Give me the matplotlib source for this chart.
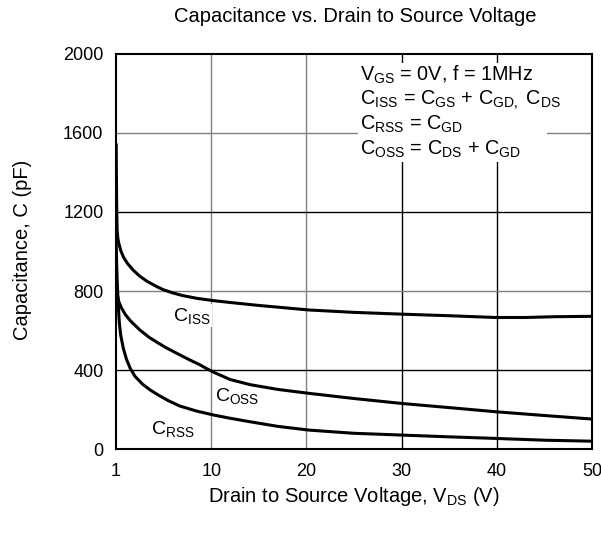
import matplotlib
matplotlib.use("Agg")
from matplotlib import pyplot as plt
from matplotlib.patches import Rectangle

plt.rcParams['font.family'] = ['Liberation Sans', 'DejaVu Sans']
plt.rcParams['mathtext.fontset'] = 'custom'
plt.rcParams['mathtext.rm'] = 'Liberation Sans'
plt.rcParams['mathtext.it'] = 'Liberation Sans'

# data (x axis drawn 0..50 with the left edge labelled "1")
ciss_v = [0.02, 0.05, 0.08, 0.12, 0.2, 0.3, 0.5, 0.8, 1.2, 1.8, 2.5, 3.3, 4.3, 5.0, 6.0,
          7.0, 8.5, 10.3, 12.0, 15.0, 20.3, 25.0, 30.0, 35.0, 39.9, 43.0, 46.0, 50.0]
ciss_c = [1540, 1350, 1200, 1110, 1065, 1040, 1005, 970, 940, 906, 875, 848, 822, 806, 790,
          777, 763, 751, 742, 727, 704, 692, 683, 675, 666, 666, 670, 672]

coss_v = [0.0, 0.05, 0.1, 0.3, 0.6, 1.0, 1.5, 2.5, 3.5, 4.5, 5.3, 6.7, 7.8, 8.8, 9.5,
          10.3, 12.0, 14.1, 17.0, 20.3, 25.0, 30.0, 35.0, 39.9, 45.0, 50.0]
coss_c = [1000, 850, 790, 745, 712, 680, 650, 603, 565, 535, 512, 477, 450, 427, 408,
          388, 352, 326, 302, 282, 256, 231, 210, 189, 170, 152]

crss_v = [0.0, 0.08, 0.15, 0.25, 0.35, 0.5, 0.77, 1.1, 1.5, 2.0, 2.8, 3.6, 4.5, 5.5, 6.7,
          8.5, 10.3, 12.0, 14.0, 17.0, 20.3, 25.0, 30.0, 35.0, 39.9, 45.0, 50.0]
crss_c = [1080, 920, 820, 720, 640, 575, 510, 455, 408, 368, 328, 299, 272, 245, 218,
          192, 172, 156, 139, 115, 96, 80, 71, 62, 54, 45, 40]

x_ticks = [0, 10, 20, 30, 40, 50]
x_labels = ["1", "10", "20", "30", "40", "50"]
y_ticks = [0, 400, 800, 1200, 1600, 2000]

notes = [r'V$_{\mathrm{GS}}$ = 0V, f = 1MHz',
         r'C$_{\mathrm{ISS}}$ = C$_{\mathrm{GS}}$ + C$_{\mathrm{GD,}}$ C$_{\mathrm{DS}}$',
         r'C$_{\mathrm{RSS}}$ = C$_{\mathrm{GD}}$',
         r'C$_{\mathrm{OSS}}$ = C$_{\mathrm{DS}}$ + C$_{\mathrm{GD}}$']
note_y = [1865, 1742, 1615, 1492]


def main():
    fig = plt.figure(figsize=(6.01, 5.34), dpi=100)
    ax = fig.add_axes([0.193, 0.159, 0.792, 0.740])

    # grid, alternating grey and black like the datasheet
    for v, col in zip([10, 20, 30, 40], ['#808080', '#808080', 'black', 'black']):
        ax.axvline(v, color=col, lw=1.0, zorder=1)
    for c, col in zip([400, 800, 1200, 1600], ['black', '#808080', 'black', '#808080']):
        ax.axhline(c, color=col, lw=1.0, zorder=1)

    ax.plot(ciss_v, ciss_c, color='black', lw=2.2, zorder=3, solid_joinstyle='round')
    ax.plot(coss_v, coss_c, color='black', lw=2.2, zorder=3, solid_joinstyle='round')
    ax.plot(crss_v, crss_c, color='black', lw=2.2, zorder=3, solid_joinstyle='round')

    ax.set_xlim(0, 50)
    ax.set_ylim(0, 2000)
    ax.set_xticks(x_ticks)
    ax.set_xticklabels(x_labels)
    ax.set_yticks(y_ticks)
    ax.tick_params(axis='x', labelsize=13, length=0, pad=10)
    ax.tick_params(axis='y', labelsize=13, length=0, pad=9)
    for s in ax.spines.values():
        s.set_linewidth(1.5)

    # curve labels sit on white patches, under the curves
    lbl = dict(fontsize=14, ha='left', va='baseline', zorder=2.5,
               bbox=dict(facecolor='white', edgecolor='none', pad=1))
    ax.text(5.95, 650, r'C$_{\mathrm{ISS}}$', **lbl)
    ax.text(10.4, 245, r'C$_{\mathrm{OSS}}$', **lbl)
    ax.text(3.65, 76, r'C$_{\mathrm{RSS}}$', **lbl)

    # white panel behind the conditions text
    ax.add_patch(Rectangle((25.4, 1453), 19.9, 501, facecolor='white', edgecolor='none', zorder=2))
    for txt, yy in zip(notes, note_y):
        ax.text(25.6, yy, txt, fontsize=14.3, ha='left', va='baseline', zorder=4)

    fig.text(0.591, 0.969, 'Capacitance vs. Drain to Source Voltage', ha='center', va='center', fontsize=14.5)
    fig.text(0.589, 0.071, r'Drain to Source Voltage, V$_{\mathrm{DS}}$ (V)', ha='center', va='center', fontsize=14.5)
    fig.text(0.038, 0.532, 'Capacitance, C (pF)', ha='center', va='center', rotation=90, fontsize=14.5)

    fig.savefig('out.png', dpi=100)


if __name__ == "__main__":
    main()
